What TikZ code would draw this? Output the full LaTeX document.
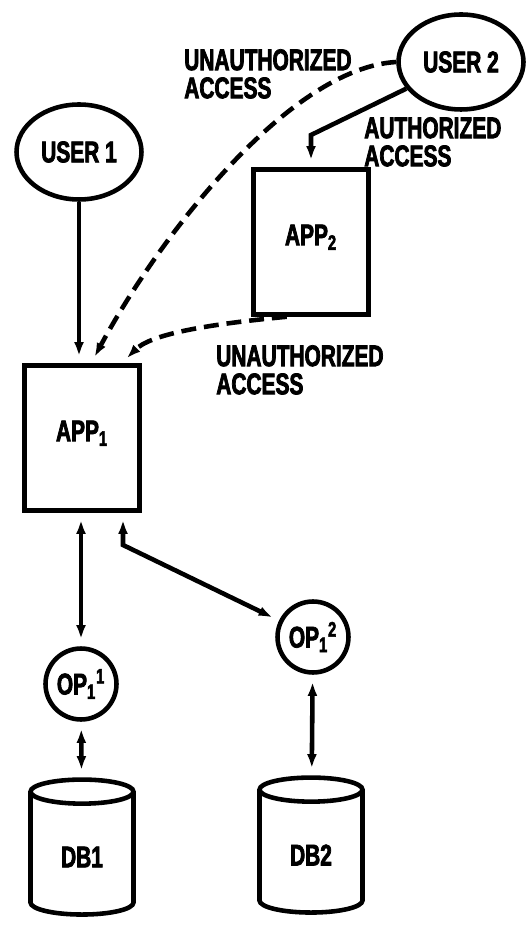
\documentclass[tikz,border=0pt]{standalone}
\usepackage{fontspec}
\setmainfont{Liberation Sans}[FakeStretch=0.70, FakeBold=2.5]
\usetikzlibrary{positioning,shapes,arrows.meta}

\begin{document}
\begin{tikzpicture}[x=0.02cm, y=-0.02cm, line width=2.6pt, >={Latex[length=12pt,width=5pt]},
    every node/.style={font=\fontsize{17}{16}\selectfont\bfseries},
    user/.style={shape=ellipse, draw, inner sep=0pt, minimum width=2.5cm, minimum height=1.9cm},
    app/.style={draw, minimum width=2.3cm, minimum height=2.9cm},
    op/.style={circle, draw, inner sep=0pt, minimum size=1.42cm},
    db/.style={shape=cylinder, shape border rotate=90, aspect=0.45, draw, minimum height=2.7cm, minimum width=2.06cm},
    access/.style={align=left, anchor=north west, inner sep=0pt},
    unauth/.style={dash pattern=on 8.5pt off 4.5pt}]
    \useasboundingbox (0,0) rectangle (527,928);

    \node[user] (user1) at (79,152) {USER 1};
    \node[user] (user2) at (461,62) {USER 2};
    \node[app] (app2) at (311,242) {\raisebox{8pt}{APP\textsubscript{2}}};
    \node[app] (app1) at (82,438) {\raisebox{8pt}{APP\textsubscript{1}}};
    \node[op] (op11) at (81,684) {OP\textsubscript{1}\textsuperscript{1}};
    \node[op] (op12) at (313,637) {OP\textsubscript{1}\textsuperscript{2}};
    \node[db] (db1) at (82,857) {DB1};
    \node[db] (db2) at (311,855) {DB2};

    \node[access] (unauth1) at (182,47) {UNAUTHORIZED\\ACCESS};
    \node[access] (auth) at (362,115) {AUTHORIZED\\ACCESS};
    \node[access] (unauth2) at (214,343) {UNAUTHORIZED\\ACCESS};

    % allowed paths
    \coordinate (kneeA) at (311,135);
    \draw[->] (user1) -- (user1 |- app1.north);
    \draw[->] (user2) -- (kneeA) -- (app2.north);

    % paths that get round the checks
    \draw[->, unauth] (user2.west) .. controls (290,68) and (160,235) .. (app1.83);
    \draw[->, unauth] (app2.252) .. controls (200,325) and (150,335) .. (app1.62);

    % data access
    \coordinate (kneeB) at (123,545);
    \draw[<->] (app1.south -| op11) -- (op11);
    \draw[<->] (app1.south -| kneeB) -- (kneeB) -- (op12);
    \draw[<->] (op11) -- (db1);
    \draw[<->] (op12) -- (db2);
\end{tikzpicture}
\end{document}
